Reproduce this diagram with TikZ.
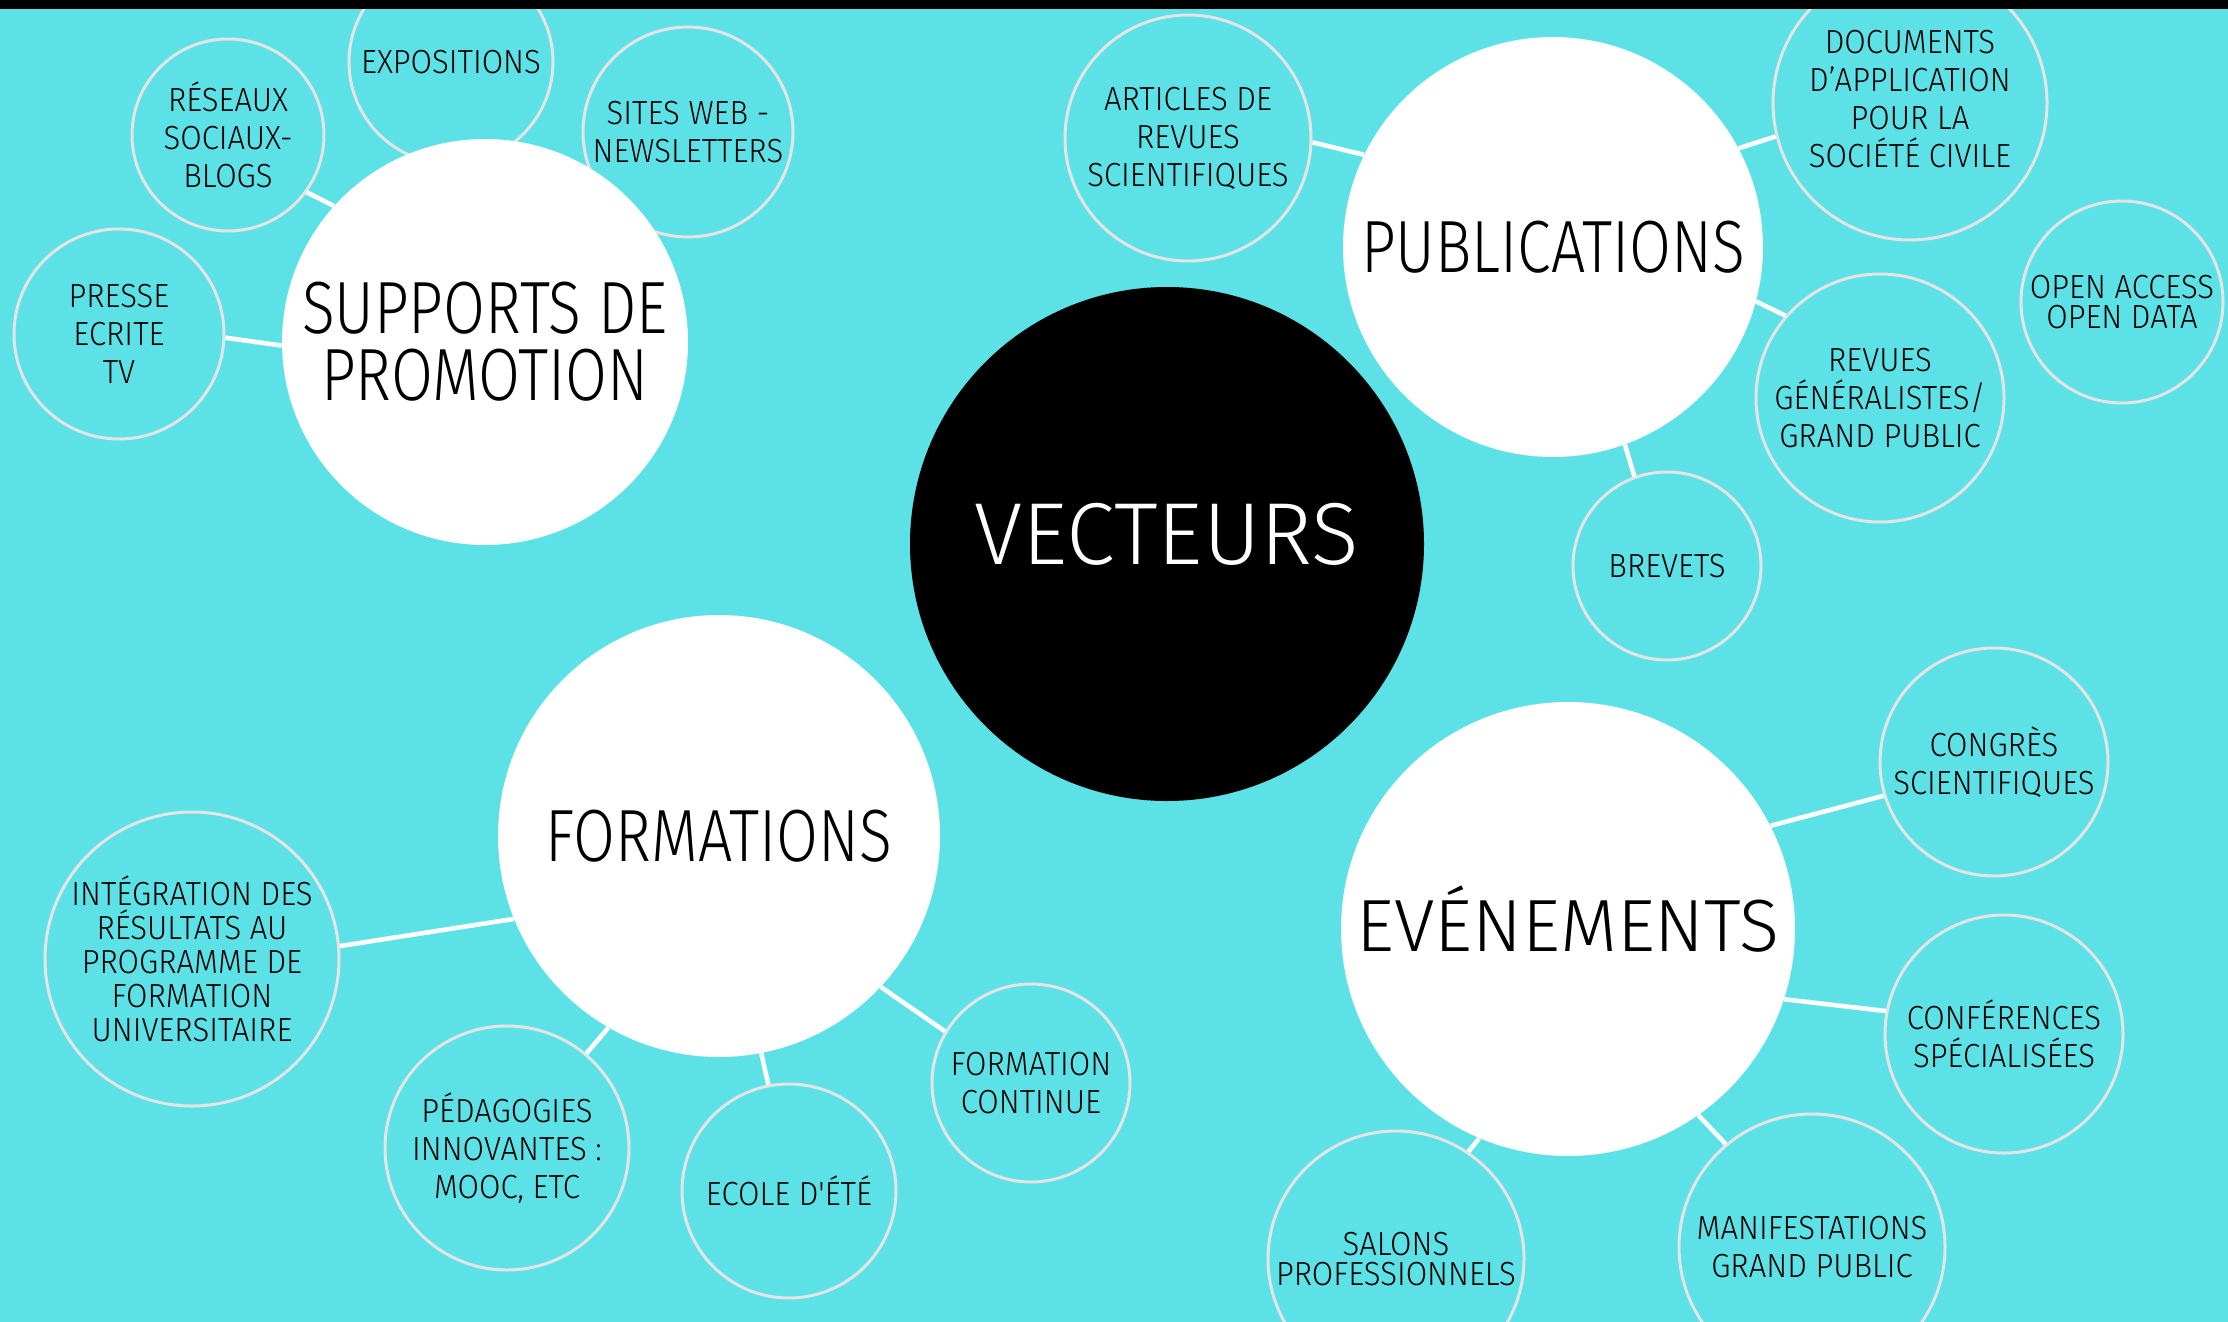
\documentclass[tikz,border=0pt]{standalone}
\usepackage{fontspec}
\newfontfamily\hubfam{Fira Sans Light}[FakeStretch=0.82]
\newfontfamily\widefam{Fira Sans Light}
\newfontfamily\leaffam{Fira Sans Light}[FakeStretch=0.93]
\definecolor{vecbg}{HTML}{5CE1E6}
\definecolor{leafline}{HTML}{E4E4E4}
\newcommand{\hubfont}{\hubfam\fontsize{37}{33.5}\selectfont}
\newcommand{\widefont}{\widefam\fontsize{37}{37}\selectfont}
\newcommand{\leaffont}{\leaffam\fontsize{16.7}{19}\selectfont}
\tikzset{
  hub/.style={circle, fill=white, inner sep=0pt, align=center, font=\hubfont},
  leaf/.style={circle, draw=leafline, line width=1.5pt, inner sep=0pt, align=center, font=\leaffont},
  link/.style={white, line width=2.3pt},
}
\begin{document}
\begin{tikzpicture}[x=0.5pt, y=-0.5pt]
    % Фон
    \fill[vecbg] (0,0) rectangle (2228,1322);
    \useasboundingbox (0,0) rectangle (2228,1322);

    % Малые круги
    \node[leaf, minimum size=102pt] (expo) at (451,62) {EXPOSITIONS};
    \node[leaf, minimum size=96pt] (reseaux) at (228,135) {RÉSEAUX\\SOCIAUX-\\BLOGS};
    \node[leaf, minimum size=105pt] (sites) at (688,132) {SITES WEB -\\NEWSLETTERS};
    \node[leaf, minimum size=105pt] (presse) at (119,334) {PRESSE\\ECRITE\\TV};
    \node[leaf, minimum size=123pt] (articles) at (1188,138) {ARTICLES DE\\REVUES\\SCIENTIFIQUES};
    \node[leaf, minimum size=137pt, text depth=4pt] (documents) at (1910,103) {DOCUMENTS\\D’APPLICATION\\POUR LA\\SOCIÉTÉ CIVILE};
    \node[leaf, minimum size=101pt, font=\leaffam\fontsize{16.7}{15}\selectfont] (openacc) at (2122,302) {OPEN ACCESS\\OPEN DATA};
    \node[leaf, minimum size=124pt] (revues) at (1880,398) {REVUES\\GÉNÉRALISTES/\\GRAND PUBLIC};
    \node[leaf, minimum size=94pt] (brevets) at (1667,566) {BREVETS};
    \node[leaf, minimum size=114pt] (congres) at (1994,762) {CONGRÈS\\SCIENTIFIQUES};
    \node[leaf, minimum size=119pt] (conf) at (2004,1034) {CONFÉRENCES\\SPÉCIALISÉES};
    \node[leaf, minimum size=133pt] (manif) at (1812,1247) {MANIFESTATIONS\\GRAND PUBLIC};
    \node[leaf, minimum size=128pt, font=\leaffam\fontsize{16.7}{15}\selectfont] (salons) at (1396,1259) {SALONS\\PROFESSIONNELS};
    \node[leaf, minimum size=147pt, font=\leaffam\fontsize{16.7}{17}\selectfont] (integ) at (192,959) {INTÉGRATION DES\\RÉSULTATS AU\\PROGRAMME DE\\FORMATION\\UNIVERSITAIRE};
    \node[leaf, minimum size=122pt] (peda) at (507,1148) {PÉDAGOGIES\\INNOVANTES :\\MOOC, ETC};
    \node[leaf, minimum size=107pt] (ecole) at (789,1191) {ECOLE D'ÉTÉ};
    \node[leaf, minimum size=99pt] (fcont) at (1031,1083) {FORMATION\\CONTINUE};

    % Большие круги
    \node[hub, minimum size=257pt, fill=black, text=white, text depth=10pt, font=\widefam\fontsize{44}{44}\selectfont] (vect) at (1167,544) {VECTEURS};
    \node[hub, minimum size=210pt] (pub) at (1553,247) {PUBLICATIONS};
    \node[hub, minimum size=203pt] (sup) at (485,342) {SUPPORTS DE\\PROMOTION};
    \node[hub, minimum size=221pt] (form) at (719,836) {FORMATIONS};
    \node[hub, minimum size=227pt, text depth=10pt, font=\widefont] (even) at (1568,929) {EVÉNEMENTS};

    % Связи
    \draw[link] (sup.138) -- (reseaux.-36);
    \draw[link] (sup.181) -- (presse.-2);
    \draw[link] (pub.154) -- (articles.-2);
    \draw[link] (pub.28) -- (documents.194);
    \draw[link] (pub.-15) -- (revues.139);
    \draw[link] (pub.-70) -- (brevets.110);
    \draw[link] (form.202) -- (integ.5);
    \draw[link] (form.-120) -- (peda.50);
    \draw[link] (form.-79) -- (ecole.101);
    \draw[link] (form.-43) -- (fcont.149);
    \draw[link] (even.27) -- (congres.197);
    \draw[link] (even.-18) -- (conf.169);
    \draw[link] (even.-55) -- (manif.130);
    \draw[link] (even.-113) -- (salons.56);

    % Чёрная полоса сверху
    \fill[black] (0,0) rectangle (2228,9);
\end{tikzpicture}
\end{document}
